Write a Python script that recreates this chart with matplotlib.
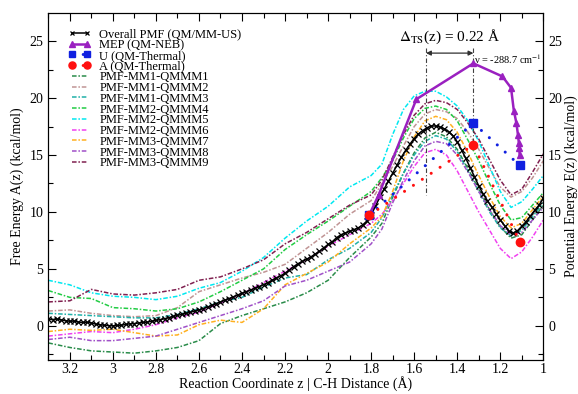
import numpy as np
import matplotlib
matplotlib.use("Agg")
import matplotlib.pyplot as plt

plt.rcParams['font.family'] = ['Liberation Serif', 'DejaVu Serif']
plt.rcParams['mathtext.fontset'] = 'stix'

# ---------------- data ----------------
# overall PMF (QM/MM-US)
pmf_z = [3.30, 3.28, 3.26, 3.24, 3.22, 3.20, 3.18, 3.16, 3.14, 3.12, 3.10, 3.08, 3.06, 3.04, 3.02, 3.00,
         2.98, 2.96, 2.94, 2.92, 2.90, 2.88, 2.86, 2.84, 2.82, 2.80, 2.78, 2.76, 2.74, 2.72, 2.70, 2.68,
         2.66, 2.64, 2.62, 2.60, 2.58, 2.56, 2.54, 2.52, 2.50, 2.48, 2.46, 2.44, 2.42, 2.40, 2.38, 2.36,
         2.34, 2.32, 2.30, 2.28, 2.26, 2.24, 2.22, 2.20, 2.18, 2.16, 2.14, 2.12, 2.10, 2.08, 2.06, 2.04,
         2.02, 2.00, 1.98, 1.96, 1.94, 1.92, 1.90, 1.88, 1.86, 1.84, 1.82, 1.80, 1.78, 1.76, 1.74, 1.72,
         1.70, 1.68, 1.66, 1.64, 1.62, 1.60, 1.58, 1.56, 1.54, 1.52, 1.50, 1.48, 1.46, 1.44, 1.42, 1.40,
         1.38, 1.36, 1.34, 1.32, 1.30, 1.28, 1.26, 1.24, 1.22, 1.20, 1.18, 1.16, 1.14, 1.12, 1.10, 1.08,
         1.06, 1.04, 1.02, 1.00]
pmf_a = [0.58, 0.55, 0.60, 0.52, 0.45, 0.40, 0.42, 0.33, 0.30, 0.32, 0.25, 0.15, 0.10, 0.05, 0.02, 0.00,
         0.03, 0.06, 0.12, 0.18, 0.20, 0.25, 0.30, 0.33, 0.40, 0.47, 0.55, 0.62, 0.72, 0.82, 0.92, 1.00,
         1.10, 1.20, 1.30, 1.40, 1.52, 1.65, 1.80, 1.95, 2.10, 2.25, 2.40, 2.55, 2.70, 2.86, 3.00, 3.15,
         3.30, 3.45, 3.62, 3.80, 4.00, 4.20, 4.40, 4.62, 4.90, 5.20, 5.45, 5.65, 5.85, 6.05, 6.30, 6.55,
         6.85, 7.15, 7.40, 7.75, 8.00, 8.15, 8.30, 8.45, 8.60, 8.85, 9.20, 9.75, 10.50, 11.30, 12.00, 12.70,
         13.40, 14.10, 14.80, 15.40, 15.95, 16.45, 16.85, 17.15, 17.40, 17.55, 17.55, 17.45, 17.30, 17.05, 16.70, 16.15,
         15.45, 14.70, 13.90, 13.10, 12.30, 11.60, 11.00, 10.45, 9.85, 9.30, 8.80, 8.30, 8.15, 8.35, 8.75, 9.15,
         9.65, 10.15, 10.60, 11.20]

# MEP (QM-NEB)
mep_z = [1.81, 1.765, 1.59, 1.325, 1.19, 1.15, 1.137, 1.125, 1.118, 1.114, 1.112, 1.11]
mep_e = [9.7, 11.5, 19.9, 23.05, 21.9, 20.9, 18.9, 17.8, 16.8, 16.1, 15.6, 15.0]

# QM-Thermal U and A
th_z = [1.81, 1.325, 1.11]
u_e = [9.7, 17.8, 14.1]
a_e = [9.7, 15.9, 7.4]

# individual PMFs
ind_z = [3.3, 3.2, 3.1, 3.0, 2.9, 2.8, 2.7, 2.6, 2.5, 2.4, 2.3, 2.2, 2.1, 2.0, 1.9, 1.8,
         1.75, 1.7, 1.65, 1.6, 1.55, 1.5, 1.45, 1.4, 1.35, 1.3, 1.25, 1.2, 1.15, 1.1, 1.05, 1.0]
pmf_mm1_qmmm1 = [-1.5, -1.9, -2.2, -2.3, -2.4, -2.2, -1.9, -1.3, 0.2, 0.9, 1.5, 2.1, 2.9, 4.0, 6.0, 7.8,
                 9.0, 11.3, 13.4, 15.2, 16.5, 17.0, 16.6, 15.5, 13.8, 12.0, 10.2, 8.7, 7.7, 8.0, 9.3, 10.6]
pmf_mm1_qmmm2 = [1.3, 1.4, 1.1, 0.9, 0.8, 0.9, 1.6, 3.0, 3.6, 4.2, 4.7, 5.4, 6.8, 8.2, 9.8, 11.0,
                 12.5, 14.0, 15.8, 17.5, 18.6, 19.0, 18.8, 18.2, 17.0, 15.5, 13.8, 12.2, 11.3, 11.8, 13.0, 14.5]
pmf_mm1_qmmm3 = [1.1, 1.0, 0.9, 0.8, 0.7, 0.7, 1.0, 1.5, 2.1, 2.5, 3.4, 4.2, 4.5, 5.8, 6.8, 8.2,
                 9.5, 11.5, 13.4, 15.0, 16.2, 16.7, 16.4, 15.3, 13.6, 11.8, 10.0, 8.6, 7.9, 8.4, 9.6, 10.8]
pmf_mm2_qmmm4 = [3.1, 2.5, 2.4, 1.6, 1.5, 1.3, 1.5, 2.1, 3.0, 4.0, 5.0, 6.7, 8.0, 9.2, 10.5, 11.8,
                 13.0, 14.5, 16.5, 18.2, 19.1, 19.3, 19.0, 18.0, 16.3, 14.5, 12.5, 10.6, 9.3, 9.5, 10.6, 11.7]
pmf_mm2_qmmm5 = [4.0, 3.6, 2.9, 2.6, 2.5, 2.3, 2.6, 3.3, 3.8, 4.8, 6.0, 7.7, 9.2, 10.5, 12.2, 13.2,
                 14.2, 16.8, 19.0, 20.2, 20.6, 20.6, 20.1, 19.3, 18.0, 16.2, 14.0, 11.8, 10.4, 10.9, 12.0, 13.2]
pmf_mm2_qmmm6 = [-0.9, -0.7, -0.5, -0.6, -0.3, 0.1, 0.7, 1.2, 2.0, 2.8, 3.8, 4.8, 5.8, 7.0, 8.0, 9.0,
                 9.8, 11.0, 12.5, 14.0, 15.2, 15.5, 15.0, 13.6, 11.8, 10.0, 8.4, 6.8, 5.9, 6.5, 7.8, 9.3]
pmf_mm3_qmmm7 = [-0.5, -0.3, -0.4, -0.3, -0.6, -0.9, -0.8, 0.1, 0.5, 0.3, 1.5, 3.6, 4.6, 5.6, 7.2, 8.6,
                 9.6, 11.8, 14.5, 16.6, 18.0, 18.4, 18.1, 17.0, 15.2, 13.2, 11.3, 9.6, 8.6, 9.0, 10.2, 11.4]
pmf_mm3_qmmm8 = [-1.2, -1.0, -1.3, -1.3, -1.1, -0.9, -0.3, 0.3, 0.9, 1.5, 2.2, 3.5, 4.0, 4.8, 5.6, 7.2,
                 8.5, 10.8, 12.8, 14.5, 15.8, 16.2, 16.0, 15.0, 13.5, 11.8, 10.2, 8.8, 8.0, 8.2, 9.3, 10.4]
pmf_mm3_qmmm9 = [2.1, 2.2, 3.2, 2.8, 2.7, 2.9, 3.2, 4.0, 4.3, 5.0, 5.8, 7.2, 8.2, 9.4, 10.6, 11.5,
                 12.8, 14.8, 16.8, 18.5, 19.5, 19.8, 19.6, 19.0, 17.8, 16.4, 14.6, 12.8, 11.5, 12.0, 13.5, 15.1]

ind_labels = ["PMF-MM1-QMMM1", "PMF-MM1-QMMM2", "PMF-MM1-QMMM3", "PMF-MM2-QMMM4", "PMF-MM2-QMMM5",
              "PMF-MM2-QMMM6", "PMF-MM3-QMMM7", "PMF-MM3-QMMM8", "PMF-MM3-QMMM9"]
ind_values = [pmf_mm1_qmmm1, pmf_mm1_qmmm2, pmf_mm1_qmmm3, pmf_mm2_qmmm4, pmf_mm2_qmmm5,
              pmf_mm2_qmmm6, pmf_mm3_qmmm7, pmf_mm3_qmmm8, pmf_mm3_qmmm9]
ind_colors = ['#2a8c4a', '#c09494', '#20b0a8', '#22cc44', '#00e8f0',
              '#f040f0', '#ffb020', '#a050c8', '#802050']

ts_pmf, ts_mep = 1.545, 1.325

# ---------------- figure ----------------
fig = plt.figure(figsize=(5.78, 3.94), dpi=100)
ax = fig.add_axes([0.0836, 0.0863, 0.8564, 0.8815])

for vals, lab, col in zip(ind_values, ind_labels, ind_colors):
    ax.plot(ind_z, vals, color=col, lw=1.1, dashes=(3, 1.2, 1, 1.2), label=lab, zorder=2)

ax.plot(pmf_z, pmf_a, color='black', lw=1.1, marker='x', ms=4.2, mew=0.9,
        label='Overall PMF (QM/MM-US)', zorder=4)
ax.plot(mep_z, mep_e, color='#9a20c0', lw=1.8, marker='^', ms=5,
        label='MEP (QM-NEB)', zorder=5)
ax.plot(th_z, u_e, color='#1020e0', lw=2.2, dashes=(0.01, 3.5), dash_capstyle='round',
        marker='s', ms=5.5, label='U (QM-Thermal)', zorder=6)
ax.plot(th_z, a_e, color='#ff1010', lw=2.2, dashes=(0.01, 3.5), dash_capstyle='round',
        marker='o', ms=6, label='A (QM-Thermal)', zorder=7)

# TS markers
ax.plot([ts_pmf, ts_pmf], [24.4, 11.5], color='#404040', lw=0.8, dashes=(4, 2, 1, 2), zorder=3)
ax.plot([ts_mep, ts_mep], [24.4, 15.9], color='#404040', lw=0.8, dashes=(4, 2, 1, 2), zorder=3)
ax.annotate('', xy=(ts_pmf, 23.95), xytext=(ts_mep, 23.95),
            arrowprops=dict(arrowstyle='<|-|>', color='#303030', lw=0.9,
                            mutation_scale=7, shrinkA=0, shrinkB=0))
ax.text((ts_pmf + ts_mep) / 2, 25.4, r'$\Delta_{\mathrm{TS}}$(z) = 0.22 Å', ha='center',
        va='center', fontsize=11)
ax.text(1.322, 23.45, r'ν = -288.7 cm$^{-1}$', ha='left', va='center', fontsize=7.5, clip_on=True)

ax.set_xlim(3.3, 1.0)
ax.set_ylim(-3, 27.5)
ax.set_xticks([3.2, 3.0, 2.8, 2.6, 2.4, 2.2, 2.0, 1.8, 1.6, 1.4, 1.2, 1.0])
ax.set_xticklabels(['3.2', '3', '2.8', '2.6', '2.4', '2.2', '2', '1.8', '1.6', '1.4', '1.2', '1'])
ax.set_xticks(np.arange(1.1, 3.31, 0.2), minor=True)
ax.set_yticks([0, 5, 10, 15, 20, 25])
ax.set_yticks([-2.5, 2.5, 7.5, 12.5, 17.5, 22.5], minor=True)
ax.tick_params(which='both', direction='in', top=True, labelsize=10, width=0.8)
ax.tick_params(axis='x', pad=2.5)
ax.tick_params(which='major', length=6)
ax.tick_params(which='minor', length=3.5)
for s in ax.spines.values():
    s.set_linewidth(0.8)

ax.set_xlabel('Reaction Coordinate z | C-H Distance (Å)', fontsize=10, labelpad=0)
ax.set_ylabel('Free Energy A(z) (kcal/mol)', fontsize=10, labelpad=4)

ax2 = ax.twinx()
ax2.set_ylim(-3, 27.5)
ax2.set_yticks([0, 5, 10, 15, 20, 25])
ax2.set_yticks([-2.5, 2.5, 7.5, 12.5, 17.5, 22.5], minor=True)
ax2.tick_params(which='both', direction='in', labelsize=10, width=0.8)
ax2.tick_params(which='major', length=6)
ax2.tick_params(which='minor', length=3.5)
ax2.set_ylabel('Potential Energy E(z) (kcal/mol)', fontsize=10, labelpad=2)
for s in ax2.spines.values():
    s.set_linewidth(0.8)

handles, labels = ax.get_legend_handles_labels()
order = [9, 10, 11, 12] + list(range(9))
leg = ax.legend([handles[i] for i in order], [labels[i] for i in order], loc='upper left',
                bbox_to_anchor=(0.04, 0.955), frameon=False, fontsize=9, numpoints=2,
                handlelength=1.8, handletextpad=0.7, labelspacing=-0.1, borderpad=0,
                borderaxespad=0, markerscale=0.85)

fig.savefig('out.png', dpi=100)
